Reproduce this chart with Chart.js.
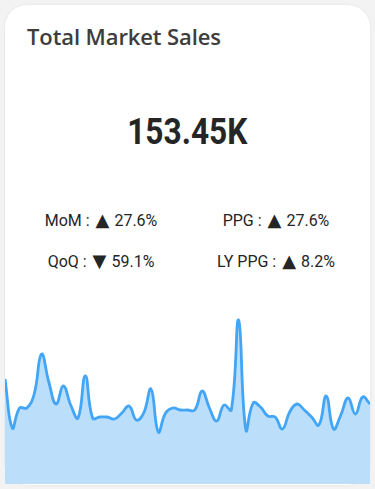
<!DOCTYPE html>
<html>
<head>
<meta charset="utf-8">
<script src="https://cdn.jsdelivr.net/npm/chart.js@4"></script>
<style>
  html, body { margin:0; padding:0; background:#f3f3f4; width:375px; height:489px; overflow:hidden; }
  .card { position:absolute; left:5px; top:5px; width:365px; height:480px; background:#fff; border-radius:22px;
          box-shadow:0 0 3px rgba(0,0,0,0.08); }
  .title { position:absolute; left:22px; top:16px; font-family:"Open Sans", "Noto Sans", sans-serif; font-weight:600;
           font-size:22px; color:#3d3d3d; letter-spacing:-0.1px; }
  .big { position:absolute; left:0; width:365px; top:106px; text-align:center; font-family:Roboto, sans-serif; font-weight:700;
         font-size:36px; color:#252525; }
  .big span { display:inline-block; transform:scaleX(0.88); }
  .kpi { position:absolute; width:170px; text-align:center; font-family:Roboto, sans-serif; font-size:16px; line-height:20px; color:#252525; white-space:nowrap; }
  .kpi b { display:inline-block; font-family:"DejaVu Sans", sans-serif; font-weight:normal; font-size:18px; line-height:16px; margin:0 5px 0 6px; }
  #wrap { position:absolute; left:5px; top:300px; width:365px; height:184px; }
</style>
</head>
<body>
<div class="card">
  <div class="title">Total Market Sales</div>
  <div class="big"><span>153.45K</span></div>
  <div class="kpi" style="left:11px;top:206px">MoM :<b>▲</b>27.6%</div>
  <div class="kpi" style="left:186px;top:206px">PPG :<b>▲</b>27.6%</div>
  <div class="kpi" style="left:11px;top:247px">QoQ :<b>▼</b>59.1%</div>
  <div class="kpi" style="left:186px;top:247px">LY PPG :<b>▲</b>8.2%</div>
</div>
<div id="wrap"><canvas id="c"></canvas></div>
<script>
const periods = Array.from({length:51}, (_, i) => 'P' + (i + 1));
const sales = [105,56,76,76,90,130,102,80,98,79,66,108,66,67,67,65,71,78,64,71,
               95,52,71,76,74,74,74,93,76,63,79,74,164,54,81,77,68,67,55,72,
               80,74,67,59,88,55,69,86,70,87,80];

new Chart(document.getElementById('c'), {
  type: 'line',
  data: {
    labels: periods,
    datasets: [{
      data: sales,
      borderColor: '#42A5F5',
      backgroundColor: '#BBDEFB',
      borderWidth: 2.8,
      fill: 'start',
      tension: 0.45,
      pointRadius: 0
    }]
  },
  options: {
    responsive: true,
    maintainAspectRatio: false,
    animation: false,
    layout: { padding: 0 },
    plugins: { legend: { display:false }, tooltip: { enabled:false } },
    scales: {
      x: { display:false, offset:false },
      y: { display:false, min:0, max:184 }
    }
  }
});
</script>
</body>
</html>
